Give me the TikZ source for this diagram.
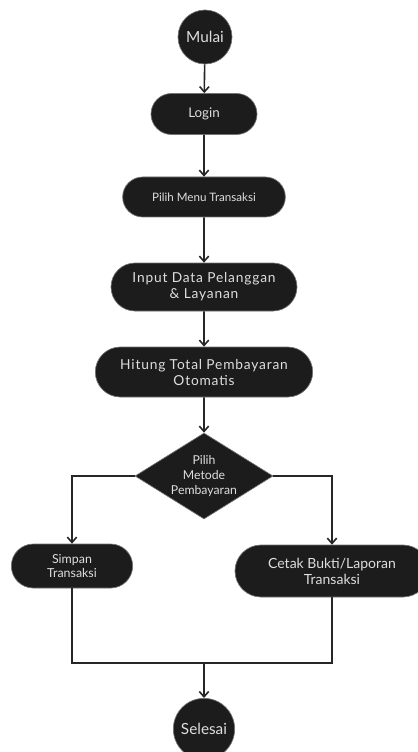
\documentclass[tikz,border=0pt]{standalone}
\usepackage{fontspec}
\setmainfont{Lato}
\newfontfamily\wideLato[LetterSpace=6]{Lato}
\usetikzlibrary{positioning,shapes.geometric,shapes.misc,arrows.meta}
\definecolor{boxfill}{HTML}{1C1C1C}
\definecolor{boxtext}{HTML}{DEDEDE}
\tikzset{
  base/.style={draw=black!55, line width=0.5pt, fill=boxfill, text=boxtext,
    align=center, inner sep=0pt, font=\fontsize{10}{12}\selectfont},
  term/.style={base, circle},
  proc/.style={base, rounded rectangle},
  decide/.style={base, diamond, aspect=1.6},
  flow/.style={-{Straight Barb[length=4pt,width=7pt]}, line width=1.2pt, draw=black!85},
  link/.style={line width=1.2pt, draw=black!85}
}

\begin{document}
\begin{tikzpicture}[x=0.75pt, y=-0.75pt]
  \useasboundingbox (0,0) rectangle (417,752);

  \node (Mulai)  [term, minimum size=40.5pt, font=\fontsize{11.5}{13}\selectfont] at (205,37) {Mulai};
  \node (Login)  [proc, minimum width=79.5pt, minimum height=30.75pt] at (204,114) {Login};
  \node (Menu)   [proc, minimum width=122pt, minimum height=30pt, font=\fontsize{8.7}{10}\selectfont] at (204,197) {Pilih Menu Transaksi};
  \node (Input)  [proc, minimum width=139.5pt, minimum height=36pt, font=\wideLato\fontsize{10.3}{12}\selectfont] at (204,287) {Input Data Pelanggan\\\& Layanan};
  \node (Hitung) [proc, minimum width=163pt, minimum height=37.5pt, font=\wideLato\fontsize{10.3}{12}\selectfont] at (204,372) {Hitung Total Pembayaran\\Otomatis};
  \node (Metode) [decide, minimum width=103.5pt, minimum height=64.5pt, font=\fontsize{9.2}{11}\selectfont] at (204,476) {Pilih\\Metode\\Pembayaran};
  \node (Simpan) [proc, minimum width=91pt, minimum height=33pt, font=\fontsize{9.3}{11}\selectfont] at (72,566) {Simpan\\Transaksi};
  \node (Cetak)  [proc, minimum width=145.5pt, minimum height=39pt, font=\fontsize{10.5}{12}\selectfont] at (332,571) {Cetak Bukti/Laporan\\Transaksi};
  \node (Selesai) [term, minimum size=46pt, font=\fontsize{11.5}{13}\selectfont] at (204,729) {Selesai};
  \coordinate (Gabung) at (204,663);

  \draw [flow] (Mulai) -- (Login);
  \draw [flow] (Login) -- (Menu);
  \draw [flow] (Menu) -- (Input);
  \draw [flow] (Input) -- (Hitung);
  \draw [flow] (Hitung) -- (Metode);
  \draw [flow] (Metode.west) -| (Simpan.north);
  \draw [flow] (Metode.east) -| (Cetak.north);
  \draw [link] (Simpan.south) |- (Gabung);
  \draw [link] (Cetak.south) |- (Gabung);
  \draw [flow] (Gabung) -- (Selesai);
\end{tikzpicture}
\end{document}
